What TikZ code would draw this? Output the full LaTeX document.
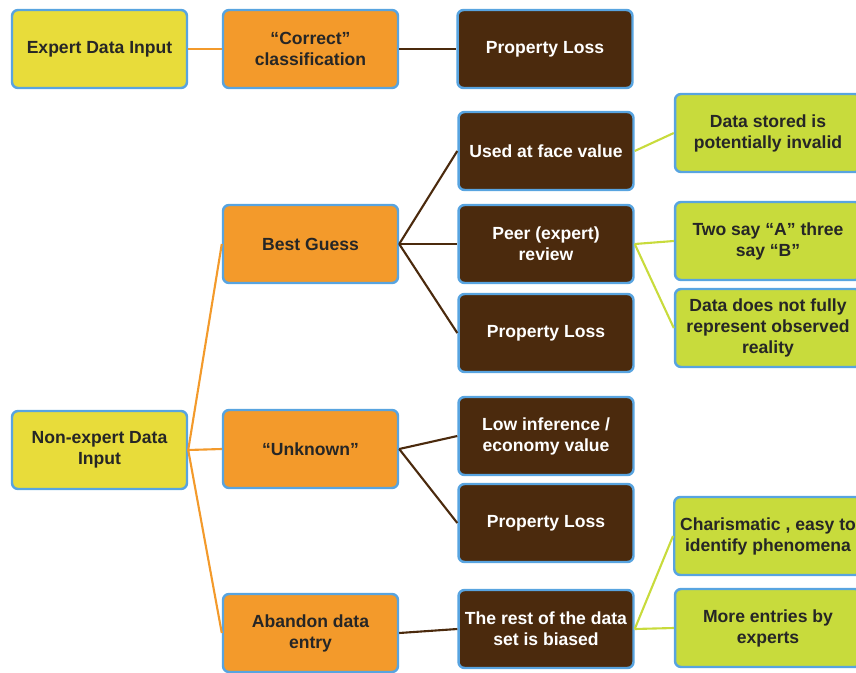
\documentclass[tikz,border=0pt]{standalone}
\usepackage{fontspec}
\setmainfont{Liberation Sans}
\usepackage{tikz}

\definecolor{boxyellow}{HTML}{E8DC3A}
\definecolor{boxorange}{HTML}{F39A2B}
\definecolor{boxbrown}{HTML}{4B2A0D}
\definecolor{boxgreen}{HTML}{C8DB3C}
\definecolor{boxrim}{HTML}{58A4E0}

\begin{document}
\begin{tikzpicture}[x=0.02cm,y=-0.02cm]

\tikzset{box/.style = {shape=rectangle,rounded corners=0.12cm,draw=boxrim,line width=1.4pt,
  minimum width=3.5cm,minimum height=1.56cm,align=center,font=\bfseries,text=black!85}}
\tikzset{yellowbox/.style = {box,fill=boxyellow}}
\tikzset{orangebox/.style = {box,fill=boxorange}}
\tikzset{brownbox/.style = {box,fill=boxbrown,text=white}}
\tikzset{greenbox/.style = {box,fill=boxgreen,minimum width=3.72cm}}
\tikzset{orangeline/.style = {draw=boxorange,line width=1.2pt}}
\tikzset{brownline/.style = {draw=boxbrown,line width=1.2pt}}
\tikzset{greenline/.style = {draw=boxgreen,line width=1.2pt}}

\useasboundingbox (0,0) rectangle (856,673);
\clip (0,0) rectangle (856,673);

% first column
\node[yellowbox] (expert) at (99.5,49) {Expert Data Input};
\node[yellowbox] (nonexpert) at (99.5,450) {Non-expert Data\\Input};

% second column
\node[orangebox] (correct) at (310.5,49) {“Correct”\\classification};
\node[orangebox] (guess) at (310.5,244) {Best Guess};
\node[orangebox] (unknown) at (310.5,449) {“Unknown”};
\node[orangebox] (abandon) at (310.5,633) {Abandon data\\entry};

% third column
\node[brownbox] (loss1) at (545,49) {Property Loss};
\node[brownbox] (face) at (546,151) {Used at face value};
\node[brownbox] (peer) at (546,244) {Peer (expert)\\review};
\node[brownbox] (loss2) at (546,333) {Property Loss};
\node[brownbox] (low) at (546,436) {Low inference /\\economy value};
\node[brownbox] (loss3) at (546,523) {Property Loss};
\node[brownbox] (biased) at (546,629) {The rest of the data\\set is biased};

% fourth column
\node[greenbox] (invalid) at (768,133) {Data stored is\\potentially invalid};
\node[greenbox] (twosay) at (768,241) {Two say “A” three\\say “B”};
\node[greenbox] (reality) at (768,328) {Data does not fully\\represent observed\\reality};
\node[greenbox] (charisma) at (768,536) {Charismatic , easy to\\identify phenomena};
\node[greenbox] (more) at (768,628) {More entries by\\experts};

% orange links
\draw[orangeline] (expert.east) to (correct.west);
\draw[orangeline] (nonexpert.east) to (guess.west);
\draw[orangeline] (nonexpert.east) to (unknown.west);
\draw[orangeline] (nonexpert.east) to (abandon.west);

% brown links
\draw[brownline] (correct.east) to (loss1.west);
\draw[brownline] (guess.east) to (face.west);
\draw[brownline] (guess.east) to (peer.west);
\draw[brownline] (guess.east) to (loss2.west);
\draw[brownline] (unknown.east) to (low.west);
\draw[brownline] (unknown.east) to (loss3.west);
\draw[brownline] (abandon.east) to (biased.west);

% green links
\draw[greenline] (face.east) to (invalid.west);
\draw[greenline] (peer.east) to (twosay.west);
\draw[greenline] (peer.east) to (reality.west);
\draw[greenline] (biased.east) to (charisma.west);
\draw[greenline] (biased.east) to (more.west);

\end{tikzpicture}
\end{document}
